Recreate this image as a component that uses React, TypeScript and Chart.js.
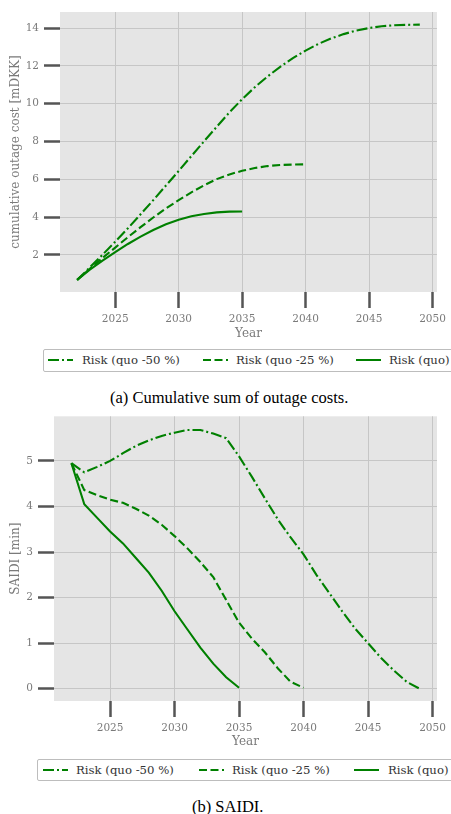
import React, { useEffect, useRef } from "react";
import { Chart, registerables } from "chart.js";

Chart.register(...registerables);

// ---------- data ----------
const yearsQuo50 = [2022, 2023, 2024, 2025, 2026, 2027, 2028, 2029, 2030, 2031, 2032, 2033, 2034, 2035, 2036, 2037, 2038, 2039, 2040, 2041, 2042, 2043, 2044, 2045, 2046, 2047, 2048, 2049];
const yearsQuo25 = [2022, 2023, 2024, 2025, 2026, 2027, 2028, 2029, 2030, 2031, 2032, 2033, 2034, 2035, 2036, 2037, 2038, 2039, 2040];
const yearsQuo = [2022, 2023, 2024, 2025, 2026, 2027, 2028, 2029, 2030, 2031, 2032, 2033, 2034, 2035];

const costQuo50 = [0.68, 1.34, 2.01, 2.7, 3.41, 4.15, 4.9, 5.67, 6.44, 7.23, 8.01, 8.78, 9.54, 10.24, 10.87, 11.44, 11.95, 12.41, 12.81, 13.16, 13.45, 13.68, 13.87, 14.0, 14.1, 14.15, 14.17, 14.18];
const costQuo25 = [0.68, 1.27, 1.84, 2.39, 2.94, 3.47, 3.98, 4.46, 4.9, 5.31, 5.68, 6.01, 6.26, 6.45, 6.6, 6.7, 6.76, 6.78, 6.79];
const costQuo = [0.68, 1.22, 1.7, 2.15, 2.58, 2.97, 3.32, 3.62, 3.86, 4.05, 4.17, 4.25, 4.29, 4.3];

const saidiQuo50 = [4.95, 4.75, 4.87, 5.0, 5.17, 5.33, 5.45, 5.55, 5.62, 5.68, 5.68, 5.6, 5.5, 5.1, 4.65, 4.18, 3.72, 3.32, 2.95, 2.5, 2.1, 1.7, 1.32, 1.0, 0.68, 0.4, 0.15, 0.0];
const saidiQuo25 = [4.95, 4.36, 4.25, 4.15, 4.08, 3.95, 3.8, 3.6, 3.35, 3.08, 2.78, 2.45, 1.95, 1.45, 1.1, 0.8, 0.45, 0.15, 0.02];
const saidiQuo = [4.95, 4.05, 3.75, 3.45, 3.19, 2.87, 2.55, 2.15, 1.7, 1.3, 0.9, 0.55, 0.25, 0.02];

const xTicks = [2025, 2030, 2035, 2040, 2045, 2050];
const costTicks = [2, 4, 6, 8, 10, 12, 14];
const saidiTicks = [0, 1, 2, 3, 4, 5];

const labels = ["Risk (quo -50 %)", "Risk (quo -25 %)", "Risk (quo)"];

// ---------- styles ----------
const GREEN = "#008000";
const DASHDOT = [11, 3, 2, 3];
const DASHED = [8, 3.5];
const SOLID: number[] = [];
const X_MIN = 2020.65;
const X_MAX = 2050.35;
const TICK_FONT = { family: "DejaVu Serif", size: 10.5 };
const TITLE_FONT = { family: "DejaVu Serif", size: 12 };

type Series = { label: string; years: number[]; values: number[]; dash: number[] };

type PanelProps = {
  top: number;
  height: number;
  padLeft: number;
  padTop: number;
  padRight: number;
  yWidth: number;
  xHeight: number;
  yMin: number;
  yMax: number;
  yTicks: number[];
  yTitle: string;
  series: Series[];
};

function Panel(p: PanelProps) {
  const ref = useRef<HTMLCanvasElement>(null);
  useEffect(() => {
    const bg = {
      id: "bg",
      beforeDraw(c: any) {
        const { ctx, chartArea: a } = c;
        ctx.save();
        ctx.fillStyle = "#e5e5e5";
        ctx.fillRect(a.left, a.top, a.right - a.left, a.bottom - a.top);
        ctx.restore();
      },
    };
    const grid = {
      color: "#c6c6c6",
      lineWidth: 1,
      tickColor: "#555555",
      tickWidth: 2.5,
      tickLength: 16,
      drawTicks: true,
    };
    const chart = new Chart(ref.current as HTMLCanvasElement, {
      type: "line",
      data: {
        datasets: p.series.map((s) => ({
          label: s.label,
          data: s.years.map((x, i) => ({ x, y: s.values[i] })),
          borderColor: GREEN,
          backgroundColor: GREEN,
          borderWidth: 2.1,
          borderDash: s.dash,
          pointRadius: 0,
          fill: false,
          tension: 0,
        })),
      },
      options: {
        animation: false,
        responsive: false,
        maintainAspectRatio: false,
        layout: { padding: { left: p.padLeft, top: p.padTop, right: p.padRight, bottom: 0 } },
        plugins: { legend: { display: false }, tooltip: { enabled: false } },
        scales: {
          x: {
            type: "linear",
            min: X_MIN,
            max: X_MAX,
            afterBuildTicks: (s: any) => {
              s.ticks = xTicks.map((v) => ({ value: v }));
            },
            afterFit: (s: any) => {
              s.height = p.xHeight;
            },
            grid,
            border: { display: false },
            ticks: {
              font: TICK_FONT,
              color: "#7a7a7a",
              padding: 5,
              maxRotation: 0,
              autoSkip: false,
              callback: (v: any) => String(v),
            },
            title: { display: true, text: "Year", font: TITLE_FONT, color: "#7a7a7a", padding: { top: 4, bottom: 4 } },
          },
          y: {
            type: "linear",
            min: p.yMin,
            max: p.yMax,
            afterBuildTicks: (s: any) => {
              s.ticks = p.yTicks.map((v) => ({ value: v }));
            },
            afterFit: (s: any) => {
              s.width = p.yWidth;
            },
            grid,
            border: { display: false },
            ticks: {
              font: TICK_FONT,
              color: "#7a7a7a",
              padding: 5,
              autoSkip: false,
              callback: (v: any) => String(v),
            },
            title: { display: true, text: p.yTitle, font: TITLE_FONT, color: "#7a7a7a", padding: { top: 4, bottom: 4 } },
          },
        },
      },
      plugins: [bg],
    } as any);
    return () => chart.destroy();
  }, []);
  return (
    <canvas
      ref={ref}
      width={451}
      height={p.height}
      style={{ position: "absolute", left: 0, top: p.top, width: 451, height: p.height }}
    />
  );
}

function Sym({ x, y, dash }: { x: number; y: number; dash: number[] }) {
  return (
    <svg
      width={26}
      height={6}
      style={{ position: "absolute", left: x, top: y - 3 }}
    >
      <line x1={0} y1={3} x2={25} y2={3} stroke={GREEN} strokeWidth={2} strokeDasharray={dash.length ? dash.join(",") : undefined} />
    </svg>
  );
}

function LegendText({ x, y, text }: { x: number; y: number; text: string }) {
  return (
    <div
      style={{
        position: "absolute",
        left: x,
        top: y - 8,
        height: 16,
        lineHeight: "16px",
        fontFamily: "DejaVu Serif",
        fontSize: 11.7,
        color: "#333",
        whiteSpace: "nowrap",
      }}
    >
      {text}
    </div>
  );
}

function Legend({ left, top, h, cy, syms, texts }: { left: number; top: number; h: number; cy: number; syms: number[]; texts: number[] }) {
  const dashes = [DASHDOT, DASHED, SOLID];
  return (
    <>
      <div
        style={{
          position: "absolute",
          left,
          top,
          width: 440,
          height: h,
          boxSizing: "border-box",
          border: "1.5px solid #bdbdbd",
          borderRadius: 2,
          background: "#fff",
        }}
      />
      {dashes.map((d, i) => (
        <Sym key={"s" + i} x={syms[i]} y={cy} dash={d} />
      ))}
      {labels.map((t, i) => (
        <LegendText key={"t" + i} x={texts[i]} y={cy} text={t} />
      ))}
    </>
  );
}

function Caption({ left, top, text }: { left: number; top: number; text: string }) {
  return (
    <div
      style={{
        position: "absolute",
        left,
        top,
        fontFamily: "Liberation Serif",
        fontSize: 16.5,
        lineHeight: "18px",
        color: "#000",
        whiteSpace: "nowrap",
      }}
    >
      {text}
    </div>
  );
}

export default function App() {
  const costSeries: Series[] = [
    { label: labels[0], years: yearsQuo50, values: costQuo50, dash: DASHDOT },
    { label: labels[1], years: yearsQuo25, values: costQuo25, dash: DASHED },
    { label: labels[2], years: yearsQuo, values: costQuo, dash: SOLID },
  ];
  const saidiSeries: Series[] = [
    { label: labels[0], years: yearsQuo50, values: saidiQuo50, dash: DASHDOT },
    { label: labels[1], years: yearsQuo25, values: saidiQuo25, dash: DASHED },
    { label: labels[2], years: yearsQuo, values: saidiQuo, dash: SOLID },
  ];
  return (
    <div
      style={{
        position: "absolute",
        left: 0,
        top: 0,
        width: 451,
        height: 814,
        overflow: "hidden",
        background: "#fff",
      }}
    >
      <Panel
        top={0}
        height={345}
        padLeft={5}
        padTop={12}
        padRight={13}
        yWidth={55}
        xHeight={53}
        yMin={0.04}
        yMax={14.85}
        yTicks={costTicks}
        yTitle="cumulative outage cost [mDKK]"
        series={costSeries}
      />
      <Legend left={43} top={349} h={23} cy={360} syms={[48, 203, 356]} texts={[82, 236, 389]} />
      <Caption left={110} top={389} text="(a) Cumulative sum of outage costs." />
      <Panel
        top={405}
        height={348}
        padLeft={5}
        padTop={10}
        padRight={13}
        yWidth={49}
        xHeight={52}
        yMin={-0.27}
        yMax={5.98}
        yTicks={saidiTicks}
        yTitle="SAIDI [min]"
        series={saidiSeries}
      />
      <Legend left={37} top={759} h={22} cy={769.5} syms={[43, 199, 354]} texts={[76, 232, 388]} />
      <Caption left={192} top={798} text="(b) SAIDI." />
    </div>
  );
}
